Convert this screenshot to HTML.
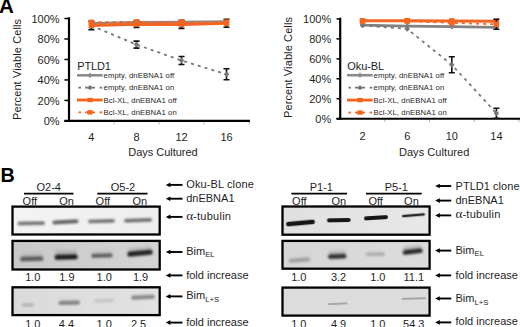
<!DOCTYPE html>
<html><head><meta charset="utf-8"><style>
html,body{margin:0;padding:0;background:#fff;overflow:hidden;}
svg{display:block;}
text{font-family:"Liberation Sans",sans-serif;fill:#1e1e1e;}
.ax{font-size:11px;}
.lt{font-size:11px;}
.lg{font-size:7.7px;letter-spacing:0.1px;}
.bt{font-size:11px;}
.sub{font-size:7.8px;}
.gr{font-family:"Liberation Serif",serif;font-size:13.2px;}
.pl{font-size:18.6px;font-weight:bold;fill:#000;}
</style></head><body>
<svg width="520" height="327" viewBox="0 0 520 327">
<defs>
<filter id="bl" x="-20%" y="-200%" width="140%" height="500%"><feGaussianBlur stdDeviation="0.75"/></filter>
<linearGradient id="sm" x1="0" y1="0" x2="0" y2="1"><stop offset="0" stop-color="currentColor" stop-opacity="0"/><stop offset="1" stop-color="currentColor" stop-opacity="1"/></linearGradient>
</defs>
<text x="-0.9" y="13.2" class="pl" style="font-size:20.6px">A</text>
<line x1="114.0" y1="120.9" x2="114.0" y2="124.30000000000001" stroke="#aaa" stroke-width="0.9"/>
<line x1="159.1" y1="120.9" x2="159.1" y2="124.30000000000001" stroke="#aaa" stroke-width="0.9"/>
<line x1="204.1" y1="120.9" x2="204.1" y2="124.30000000000001" stroke="#aaa" stroke-width="0.9"/>
<line x1="249.2" y1="120.9" x2="249.2" y2="124.30000000000001" stroke="#aaa" stroke-width="0.9"/>
<line x1="69" y1="17.3" x2="69" y2="121.9" stroke="#000" stroke-width="2.2"/>
<line x1="64.4" y1="120.9" x2="250" y2="120.9" stroke="#000" stroke-width="2.1"/>
<line x1="64.4" y1="120.90" x2="69" y2="120.90" stroke="#000" stroke-width="1.5"/>
<text x="59.6" y="125.00" class="ax" text-anchor="end">0%</text>
<line x1="64.4" y1="100.42" x2="69" y2="100.42" stroke="#000" stroke-width="1.5"/>
<text x="59.6" y="104.52" class="ax" text-anchor="end">20%</text>
<line x1="64.4" y1="79.94" x2="69" y2="79.94" stroke="#000" stroke-width="1.5"/>
<text x="59.6" y="84.04" class="ax" text-anchor="end">40%</text>
<line x1="64.4" y1="59.46" x2="69" y2="59.46" stroke="#000" stroke-width="1.5"/>
<text x="59.6" y="63.56" class="ax" text-anchor="end">60%</text>
<line x1="64.4" y1="38.98" x2="69" y2="38.98" stroke="#000" stroke-width="1.5"/>
<text x="59.6" y="43.08" class="ax" text-anchor="end">80%</text>
<line x1="64.4" y1="18.50" x2="69" y2="18.50" stroke="#000" stroke-width="1.5"/>
<text x="59.6" y="22.60" class="ax" text-anchor="end">100%</text>
<text x="91.4" y="141.3" class="ax" text-anchor="middle">4</text>
<text x="136.5" y="141.3" class="ax" text-anchor="middle">8</text>
<text x="181.5" y="141.3" class="ax" text-anchor="middle">12</text>
<text x="226.5" y="141.3" class="ax" text-anchor="middle">16</text>
<text x="128.2" y="156.4" class="ax" textLength="69.5" lengthAdjust="spacing">Days Cultured</text>
<text transform="translate(21.4,119.9) rotate(-90)" class="ax" textLength="101" lengthAdjust="spacing">Percent Viable Cells</text>
<polyline points="91.4,23.1 136.5,22.1 181.5,21.8 226.5,21.3" fill="none" stroke="#8c8c8c" stroke-width="2.2"/>
<path d="M91.4,20.3l2.8,2.8l-2.8,2.8l-2.8,-2.8z" fill="#8c8c8c"/>
<path d="M136.5,19.3l2.8,2.8l-2.8,2.8l-2.8,-2.8z" fill="#8c8c8c"/>
<path d="M181.5,19.0l2.8,2.8l-2.8,2.8l-2.8,-2.8z" fill="#8c8c8c"/>
<path d="M226.5,18.5l2.8,2.8l-2.8,2.8l-2.8,-2.8z" fill="#8c8c8c"/>
<polyline points="91.4,25.7 136.5,44.6 181.5,60.5 226.5,74.3" fill="none" stroke="#777" stroke-width="1.8" stroke-dasharray="3,4.1"/>
<path d="M133.5,41.1h6M136.5,41.1v7.0M133.5,48.1h6" stroke="#111" stroke-width="1.6" fill="none"/>
<path d="M178.5,56.5h6M181.5,56.5v8M178.5,64.5h6" stroke="#111" stroke-width="1.6" fill="none"/>
<path d="M223.5,68.8h6M226.5,68.8v11.0M223.5,79.8h6" stroke="#111" stroke-width="1.6" fill="none"/>
<path d="M91.4,22.9l2.8,2.8l-2.8,2.8l-2.8,-2.8z" fill="#777"/>
<path d="M136.5,41.8l2.8,2.8l-2.8,2.8l-2.8,-2.8z" fill="#777"/>
<path d="M181.5,57.7l2.8,2.8l-2.8,2.8l-2.8,-2.8z" fill="#777"/>
<path d="M226.5,71.5l2.8,2.8l-2.8,2.8l-2.8,-2.8z" fill="#777"/>
<polyline points="91.4,25.4 136.5,24.1 181.5,24.4 226.5,23.3" fill="none" stroke="#f26522" stroke-width="3.1"/>
<path d="M88.4,21.2h6M91.4,21.2v8.4M88.4,29.6h6" stroke="#111" stroke-width="1.6" fill="none"/>
<path d="M133.5,20.8h6M136.5,20.8v6.6M133.5,27.4h6" stroke="#111" stroke-width="1.6" fill="none"/>
<path d="M178.5,20.4h6M181.5,20.4v8M178.5,28.4h6" stroke="#111" stroke-width="1.6" fill="none"/>
<path d="M223.5,19.3h6M226.5,19.3v8M223.5,27.3h6" stroke="#111" stroke-width="1.6" fill="none"/>
<rect x="88.7" y="22.7" width="5.4" height="5.4" fill="#f26522"/>
<rect x="133.8" y="21.4" width="5.4" height="5.4" fill="#f26522"/>
<rect x="178.8" y="21.7" width="5.4" height="5.4" fill="#f26522"/>
<rect x="223.8" y="20.6" width="5.4" height="5.4" fill="#f26522"/>
<polyline points="91.4,22.3 136.5,21.8 181.5,22.1 226.5,22.1" fill="none" stroke="#f26522" stroke-width="1.8" stroke-dasharray="3,4.1"/>
<rect x="88.7" y="19.6" width="5.4" height="5.4" fill="#f26522"/>
<rect x="133.8" y="19.1" width="5.4" height="5.4" fill="#f26522"/>
<rect x="178.8" y="19.4" width="5.4" height="5.4" fill="#f26522"/>
<rect x="223.8" y="19.4" width="5.4" height="5.4" fill="#f26522"/>
<text x="77.3" y="69.9" class="lt" textLength="33.5" lengthAdjust="spacing">PTLD1</text>
<line x1="77" y1="75.30" x2="102.6" y2="75.30" stroke="#8c8c8c" stroke-width="2.6"/>
<path d="M90,72.70l2.6,2.6l-2.6,2.6l-2.6,-2.6z" fill="#8c8c8c"/>
<text x="103.6" y="77.90" class="lg">empty, dnEBNA1 off</text>
<line x1="78.4" y1="87.65" x2="81" y2="87.65" stroke="#777" stroke-width="1.8"/>
<line x1="85" y1="87.65" x2="95" y2="87.65" stroke="#777" stroke-width="1.8"/>
<line x1="99.6" y1="87.65" x2="102.2" y2="87.65" stroke="#777" stroke-width="1.8"/>
<path d="M90,85.05l2.6,2.6l-2.6,2.6l-2.6,-2.6z" fill="#777"/>
<text x="103.6" y="90.25" class="lg">empty, dnEBNA1 on</text>
<line x1="77" y1="100.00" x2="102.6" y2="100.00" stroke="#f26522" stroke-width="2.9"/>
<rect x="87.4" y="97.80" width="5.2" height="4.4" fill="#f26522"/>
<text x="103.6" y="102.60" class="lg">Bcl-XL, dnEBNA1 off</text>
<line x1="78.4" y1="112.35" x2="81" y2="112.35" stroke="#f26522" stroke-width="1.8"/>
<line x1="85" y1="112.35" x2="95" y2="112.35" stroke="#f26522" stroke-width="1.8"/>
<line x1="99.6" y1="112.35" x2="102.2" y2="112.35" stroke="#f26522" stroke-width="1.8"/>
<rect x="87.4" y="110.15" width="5.2" height="4.4" fill="#f26522"/>
<text x="103.6" y="114.95" class="lg">Bcl-XL, dnEBNA1 on</text>
<line x1="384.8" y1="118.7" x2="384.8" y2="122.10000000000001" stroke="#aaa" stroke-width="0.9"/>
<line x1="429.5" y1="118.7" x2="429.5" y2="122.10000000000001" stroke="#aaa" stroke-width="0.9"/>
<line x1="474.2" y1="118.7" x2="474.2" y2="122.10000000000001" stroke="#aaa" stroke-width="0.9"/>
<line x1="518.9" y1="118.7" x2="518.9" y2="122.10000000000001" stroke="#aaa" stroke-width="0.9"/>
<line x1="340.2" y1="17.7" x2="340.2" y2="119.7" stroke="#000" stroke-width="2.2"/>
<line x1="336.5" y1="118.7" x2="520" y2="118.7" stroke="#000" stroke-width="2.1"/>
<line x1="336.5" y1="118.70" x2="340.2" y2="118.70" stroke="#000" stroke-width="1.5"/>
<text x="331.2" y="122.50" class="ax" text-anchor="end">0%</text>
<line x1="336.5" y1="98.74" x2="340.2" y2="98.74" stroke="#000" stroke-width="1.5"/>
<text x="331.2" y="102.54" class="ax" text-anchor="end">20%</text>
<line x1="336.5" y1="78.78" x2="340.2" y2="78.78" stroke="#000" stroke-width="1.5"/>
<text x="331.2" y="82.58" class="ax" text-anchor="end">40%</text>
<line x1="336.5" y1="58.82" x2="340.2" y2="58.82" stroke="#000" stroke-width="1.5"/>
<text x="331.2" y="62.62" class="ax" text-anchor="end">60%</text>
<line x1="336.5" y1="38.86" x2="340.2" y2="38.86" stroke="#000" stroke-width="1.5"/>
<text x="331.2" y="42.66" class="ax" text-anchor="end">80%</text>
<line x1="336.5" y1="18.90" x2="340.2" y2="18.90" stroke="#000" stroke-width="1.5"/>
<text x="331.2" y="22.70" class="ax" text-anchor="end">100%</text>
<text x="362.5" y="140" class="ax" text-anchor="middle">2</text>
<text x="407.2" y="140" class="ax" text-anchor="middle">6</text>
<text x="451.8" y="140" class="ax" text-anchor="middle">10</text>
<text x="496.4" y="140" class="ax" text-anchor="middle">14</text>
<text x="398.9" y="156" class="ax" textLength="70.5" lengthAdjust="spacing">Days Cultured</text>
<text transform="translate(292.2,118) rotate(-90)" class="ax" textLength="101" lengthAdjust="spacing">Percent Viable Cells</text>
<polyline points="362.5,25.1 407.2,26.1 451.8,26.7 496.4,27.3" fill="none" stroke="#828282" stroke-width="2.7"/>
<path d="M362.5,22.3l2.8,2.8l-2.8,2.8l-2.8,-2.8z" fill="#828282"/>
<path d="M407.2,23.3l2.8,2.8l-2.8,2.8l-2.8,-2.8z" fill="#828282"/>
<path d="M451.8,23.9l2.8,2.8l-2.8,2.8l-2.8,-2.8z" fill="#828282"/>
<path d="M496.4,24.5l2.8,2.8l-2.8,2.8l-2.8,-2.8z" fill="#828282"/>
<polyline points="362.5,25.4 407.2,28.9 451.8,64.8 496.4,113.2" fill="none" stroke="#777" stroke-width="1.8" stroke-dasharray="3,4.1"/>
<path d="M448.8,56.8h6M451.8,56.8v16M448.8,72.8h6" stroke="#111" stroke-width="1.6" fill="none"/>
<path d="M493.4,108.2h6M496.4,108.2v10M493.4,118.2h6" stroke="#111" stroke-width="1.6" fill="none"/>
<path d="M362.5,22.6l2.8,2.8l-2.8,2.8l-2.8,-2.8z" fill="#777"/>
<path d="M407.2,26.1l2.8,2.8l-2.8,2.8l-2.8,-2.8z" fill="#777"/>
<path d="M451.8,62.0l2.8,2.8l-2.8,2.8l-2.8,-2.8z" fill="#777"/>
<path d="M496.4,110.4l2.8,2.8l-2.8,2.8l-2.8,-2.8z" fill="#777"/>
<polyline points="362.5,20.8 407.2,20.7 451.8,20.9 496.4,21.3" fill="none" stroke="#f26522" stroke-width="3"/>
<rect x="359.8" y="18.1" width="5.4" height="5.4" fill="#f26522"/>
<rect x="404.5" y="18.0" width="5.4" height="5.4" fill="#f26522"/>
<rect x="449.1" y="18.2" width="5.4" height="5.4" fill="#f26522"/>
<rect x="493.7" y="18.6" width="5.4" height="5.4" fill="#f26522"/>
<polyline points="362.5,21.1 407.2,21.1 451.8,22.9 496.4,24.3" fill="none" stroke="#f26522" stroke-width="1.8" stroke-dasharray="3,4.1"/>
<path d="M493.4,19.3h6M496.4,19.3v10M493.4,29.3h6" stroke="#111" stroke-width="1.6" fill="none"/>
<rect x="359.8" y="18.4" width="5.4" height="5.4" fill="#f26522"/>
<rect x="404.5" y="18.4" width="5.4" height="5.4" fill="#f26522"/>
<rect x="449.1" y="20.2" width="5.4" height="5.4" fill="#f26522"/>
<rect x="493.7" y="21.6" width="5.4" height="5.4" fill="#f26522"/>
<text x="347.2" y="69.9" class="lt" textLength="37" lengthAdjust="spacing">Oku-BL</text>
<line x1="347" y1="75.20" x2="372.6" y2="75.20" stroke="#8c8c8c" stroke-width="2.6"/>
<path d="M360,72.60l2.6,2.6l-2.6,2.6l-2.6,-2.6z" fill="#8c8c8c"/>
<text x="373.6" y="77.80" class="lg">empty, dnEBNA1 off</text>
<line x1="348.4" y1="87.65" x2="351" y2="87.65" stroke="#777" stroke-width="1.8"/>
<line x1="355" y1="87.65" x2="365" y2="87.65" stroke="#777" stroke-width="1.8"/>
<line x1="369.6" y1="87.65" x2="372.2" y2="87.65" stroke="#777" stroke-width="1.8"/>
<path d="M360,85.05l2.6,2.6l-2.6,2.6l-2.6,-2.6z" fill="#777"/>
<text x="373.6" y="90.25" class="lg">empty, dnEBNA1 on</text>
<line x1="347" y1="100.10" x2="372.6" y2="100.10" stroke="#f26522" stroke-width="2.9"/>
<rect x="357.4" y="97.90" width="5.2" height="4.4" fill="#f26522"/>
<text x="373.6" y="102.70" class="lg">Bcl-XL, dnEBNA1 off</text>
<line x1="348.4" y1="112.55" x2="351" y2="112.55" stroke="#f26522" stroke-width="1.8"/>
<line x1="355" y1="112.55" x2="365" y2="112.55" stroke="#f26522" stroke-width="1.8"/>
<line x1="369.6" y1="112.55" x2="372.2" y2="112.55" stroke="#f26522" stroke-width="1.8"/>
<rect x="357.4" y="110.35" width="5.2" height="4.4" fill="#f26522"/>
<text x="373.6" y="115.15" class="lg">Bcl-XL, dnEBNA1 on</text>
<text x="0.6" y="181.8" class="pl" style="font-size:19.8px">B</text>
<text x="48.7" y="191.2" class="bt" text-anchor="middle">O2-4</text>
<line x1="24" y1="193.6" x2="73.5" y2="193.6" stroke="#000" stroke-width="1.7"/>
<text x="22.6" y="204.6" class="bt">Off</text>
<text x="59.2" y="204.6" class="bt">On</text>
<text x="123" y="191.2" class="bt" text-anchor="middle">O5-2</text>
<line x1="97.3" y1="193.6" x2="147.5" y2="193.6" stroke="#000" stroke-width="1.7"/>
<text x="95.6" y="204.6" class="bt">Off</text>
<text x="132.4" y="204.6" class="bt">On</text>
<text x="321.3" y="191.2" class="bt" text-anchor="middle">P1-1</text>
<line x1="291.4" y1="193.6" x2="347" y2="193.6" stroke="#000" stroke-width="1.7"/>
<text x="292.1" y="204.6" class="bt">Off</text>
<text x="331.5" y="204.6" class="bt">On</text>
<text x="396.3" y="191.2" class="bt" text-anchor="middle">P5-1</text>
<line x1="366" y1="193.6" x2="421.7" y2="193.6" stroke="#000" stroke-width="1.7"/>
<text x="368.4" y="204.6" class="bt">Off</text>
<text x="404.1" y="204.6" class="bt">On</text>
<linearGradient id="bg17" x1="0" y1="0" x2="1" y2="0"><stop offset="0" stop-color="#f3f3f3"/><stop offset="1" stop-color="#eeeeee"/></linearGradient>
<rect x="12.5" y="206.6" width="147.2" height="27.9" fill="url(#bg17)" stroke="#000" stroke-width="2.3"/>
<filter id="f19" x="-30%" y="-300%" width="160%" height="700%"><feGaussianBlur stdDeviation="0.9"/></filter>
<g transform="translate(31.20,223.30) rotate(-0.83)" filter="url(#f19)"><rect x="-13.80" y="-1.80" width="27.60" height="3.60" rx="1.80" fill="#6e6e6e"/></g>
<filter id="f21" x="-30%" y="-300%" width="160%" height="700%"><feGaussianBlur stdDeviation="0.9"/></filter>
<g transform="translate(65.40,221.90) rotate(-3.06)" filter="url(#f21)"><rect x="-13.10" y="-1.90" width="26.20" height="3.80" rx="1.90" fill="#666"/></g>
<filter id="f23" x="-30%" y="-300%" width="160%" height="700%"><feGaussianBlur stdDeviation="0.9"/></filter>
<g transform="translate(101.50,221.15) rotate(-1.49)" filter="url(#f23)"><rect x="-13.50" y="-1.80" width="27.00" height="3.60" rx="1.80" fill="#707070"/></g>
<filter id="f25" x="-30%" y="-300%" width="160%" height="700%"><feGaussianBlur stdDeviation="0.9"/></filter>
<g transform="translate(138.00,220.30) rotate(-2.05)" filter="url(#f25)"><rect x="-14.00" y="-1.80" width="28.00" height="3.60" rx="1.80" fill="#6a6a6a"/></g>
<linearGradient id="bg27" x1="0" y1="0" x2="1" y2="0"><stop offset="0" stop-color="#c8c8c8"/><stop offset="1" stop-color="#d4d4d4"/></linearGradient>
<rect x="12.5" y="240.9" width="147.2" height="28.6" fill="url(#bg27)" stroke="#000" stroke-width="2.3"/>
<filter id="f29" x="-30%" y="-300%" width="160%" height="700%"><feGaussianBlur stdDeviation="1.1"/></filter>
<linearGradient id="gf29" x1="0" y1="0" x2="0" y2="1"><stop offset="0" stop-color="#5e5e5e" stop-opacity="0"/><stop offset="1" stop-color="#5e5e5e" stop-opacity="0.35"/></linearGradient>
<g transform="translate(31.75,258.90) rotate(-1.46)" filter="url(#f29)"><rect x="-10.75" y="-7.20" width="21.50" height="7.20" rx="2" fill="url(#gf29)"/><rect x="-11.75" y="-2.20" width="23.50" height="4.40" rx="2.20" fill="#5e5e5e"/></g>
<filter id="f32" x="-30%" y="-300%" width="160%" height="700%"><feGaussianBlur stdDeviation="1.0"/></filter>
<linearGradient id="gf32" x1="0" y1="0" x2="0" y2="1"><stop offset="0" stop-color="#1e1e1e" stop-opacity="0"/><stop offset="1" stop-color="#1e1e1e" stop-opacity="0.35"/></linearGradient>
<g transform="translate(66.15,257.10) rotate(-1.49)" filter="url(#f32)"><rect x="-10.55" y="-8.50" width="21.10" height="8.50" rx="2" fill="url(#gf32)"/><rect x="-11.55" y="-2.50" width="23.10" height="5.00" rx="2.50" fill="#1e1e1e"/></g>
<filter id="f35" x="-30%" y="-300%" width="160%" height="700%"><feGaussianBlur stdDeviation="1.1"/></filter>
<linearGradient id="gf35" x1="0" y1="0" x2="0" y2="1"><stop offset="0" stop-color="#606060" stop-opacity="0"/><stop offset="1" stop-color="#606060" stop-opacity="0.3"/></linearGradient>
<g transform="translate(101.95,255.65) rotate(-1.33)" filter="url(#f35)"><rect x="-9.75" y="-6.10" width="19.50" height="6.10" rx="2" fill="url(#gf35)"/><rect x="-10.75" y="-2.10" width="21.50" height="4.20" rx="2.10" fill="#606060"/></g>
<filter id="f38" x="-30%" y="-300%" width="160%" height="700%"><feGaussianBlur stdDeviation="1.0"/></filter>
<linearGradient id="gf38" x1="0" y1="0" x2="0" y2="1"><stop offset="0" stop-color="#222" stop-opacity="0"/><stop offset="1" stop-color="#222" stop-opacity="0.35"/></linearGradient>
<g transform="translate(140.00,253.20) rotate(-5.40)" filter="url(#f38)"><rect x="-11.70" y="-7.50" width="23.40" height="7.50" rx="2" fill="url(#gf38)"/><rect x="-12.70" y="-2.50" width="25.40" height="5.00" rx="2.50" fill="#222"/></g>
<linearGradient id="bg41" x1="0" y1="0" x2="1" y2="0"><stop offset="0" stop-color="#dadada"/><stop offset="1" stop-color="#e2e2e2"/></linearGradient>
<rect x="12.5" y="287.3" width="147.2" height="27.8" fill="url(#bg41)" stroke="#000" stroke-width="2.3"/>
<filter id="f43" x="-30%" y="-300%" width="160%" height="700%"><feGaussianBlur stdDeviation="0.9"/></filter>
<g transform="translate(28.00,304.90) rotate(-0.95)" filter="url(#f43)"><rect x="-6.00" y="-1.70" width="12.00" height="3.40" rx="1.70" fill="#b4b4b4"/></g>
<filter id="f45" x="-30%" y="-300%" width="160%" height="700%"><feGaussianBlur stdDeviation="0.9"/></filter>
<linearGradient id="gf45" x1="0" y1="0" x2="0" y2="1"><stop offset="0" stop-color="#848484" stop-opacity="0"/><stop offset="1" stop-color="#848484" stop-opacity="0.3"/></linearGradient>
<g transform="translate(69.25,302.80) rotate(-1.07)" filter="url(#f45)"><rect x="-9.75" y="-5.00" width="19.50" height="5.00" rx="2" fill="url(#gf45)"/><rect x="-10.75" y="-2.00" width="21.50" height="4.00" rx="2.00" fill="#848484"/></g>
<filter id="f48" x="-30%" y="-300%" width="160%" height="700%"><feGaussianBlur stdDeviation="0.9"/></filter>
<g transform="translate(104.00,300.55) rotate(-1.43)" filter="url(#f48)"><rect x="-10.00" y="-1.60" width="20.00" height="3.20" rx="1.60" fill="#c2c2c2"/></g>
<filter id="f50" x="-30%" y="-300%" width="160%" height="700%"><feGaussianBlur stdDeviation="0.9"/></filter>
<linearGradient id="gf50" x1="0" y1="0" x2="0" y2="1"><stop offset="0" stop-color="#8a8a8a" stop-opacity="0"/><stop offset="1" stop-color="#8a8a8a" stop-opacity="0.3"/></linearGradient>
<g transform="translate(143.00,297.30) rotate(-2.39)" filter="url(#f50)"><rect x="-11.00" y="-5.00" width="22.00" height="5.00" rx="2" fill="url(#gf50)"/><rect x="-12.00" y="-2.00" width="24.00" height="4.00" rx="2.00" fill="#8a8a8a"/></g>
<linearGradient id="bg53" x1="0" y1="0" x2="1" y2="0"><stop offset="0" stop-color="#e0e0e0"/><stop offset="1" stop-color="#e8e8e8"/></linearGradient>
<rect x="282.5" y="206.5" width="147.1" height="28.2" fill="url(#bg53)" stroke="#000" stroke-width="2.3"/>
<filter id="f55" x="-30%" y="-300%" width="160%" height="700%"><feGaussianBlur stdDeviation="0.7"/></filter>
<g transform="translate(300.50,223.00) rotate(-5.12)" filter="url(#f55)"><rect x="-14.50" y="-2.30" width="29.00" height="4.60" rx="2.30" fill="#141414"/></g>
<filter id="f57" x="-30%" y="-300%" width="160%" height="700%"><feGaussianBlur stdDeviation="0.7"/></filter>
<g transform="translate(338.80,220.20) rotate(-0.97)" filter="url(#f57)"><rect x="-11.80" y="-1.90" width="23.60" height="3.80" rx="1.90" fill="#181818"/></g>
<filter id="f59" x="-30%" y="-300%" width="160%" height="700%"><feGaussianBlur stdDeviation="0.7"/></filter>
<g transform="translate(375.95,217.75) rotate(-3.56)" filter="url(#f59)"><rect x="-12.05" y="-2.10" width="24.10" height="4.20" rx="2.10" fill="#141414"/></g>
<filter id="f61" x="-30%" y="-300%" width="160%" height="700%"><feGaussianBlur stdDeviation="0.6"/></filter>
<g transform="translate(413.50,215.25) rotate(-4.72)" filter="url(#f61)"><rect x="-11.50" y="-1.20" width="23.00" height="2.40" rx="1.20" fill="#262626"/></g>
<linearGradient id="bg63" x1="0" y1="0" x2="1" y2="0"><stop offset="0" stop-color="#d6d6d6"/><stop offset="1" stop-color="#dcdcdc"/></linearGradient>
<rect x="282.5" y="240.9" width="147.1" height="27.8" fill="url(#bg63)" stroke="#000" stroke-width="2.3"/>
<filter id="f65" x="-30%" y="-300%" width="160%" height="700%"><feGaussianBlur stdDeviation="0.9"/></filter>
<linearGradient id="gf65" x1="0" y1="0" x2="0" y2="1"><stop offset="0" stop-color="#a0a0a0" stop-opacity="0"/><stop offset="1" stop-color="#a0a0a0" stop-opacity="0.3"/></linearGradient>
<g transform="translate(299.55,260.15) rotate(-4.52)" filter="url(#f65)"><rect x="-9.75" y="-5.10" width="19.50" height="5.10" rx="2" fill="url(#gf65)"/><rect x="-10.75" y="-2.10" width="21.50" height="4.20" rx="2.10" fill="#a0a0a0"/></g>
<filter id="f68" x="-30%" y="-300%" width="160%" height="700%"><feGaussianBlur stdDeviation="0.9"/></filter>
<linearGradient id="gf68" x1="0" y1="0" x2="0" y2="1"><stop offset="0" stop-color="#333" stop-opacity="0"/><stop offset="1" stop-color="#333" stop-opacity="0.45"/></linearGradient>
<g transform="translate(337.25,256.50) rotate(-1.86)" filter="url(#f68)"><rect x="-8.25" y="-7.30" width="16.50" height="7.30" rx="2" fill="url(#gf68)"/><rect x="-9.25" y="-2.30" width="18.50" height="4.60" rx="2.30" fill="#333"/></g>
<filter id="f71" x="-30%" y="-300%" width="160%" height="700%"><feGaussianBlur stdDeviation="0.9"/></filter>
<linearGradient id="gf71" x1="0" y1="0" x2="0" y2="1"><stop offset="0" stop-color="#b0b0b0" stop-opacity="0"/><stop offset="1" stop-color="#b0b0b0" stop-opacity="0.3"/></linearGradient>
<g transform="translate(375.40,254.20) rotate(-1.19)" filter="url(#f71)"><rect x="-8.60" y="-3.90" width="17.20" height="3.90" rx="2" fill="url(#gf71)"/><rect x="-9.60" y="-1.90" width="19.20" height="3.80" rx="1.90" fill="#b0b0b0"/></g>
<filter id="f74" x="-30%" y="-300%" width="160%" height="700%"><feGaussianBlur stdDeviation="0.9"/></filter>
<linearGradient id="gf74" x1="0" y1="0" x2="0" y2="1"><stop offset="0" stop-color="#262626" stop-opacity="0"/><stop offset="1" stop-color="#262626" stop-opacity="0.45"/></linearGradient>
<g transform="translate(412.70,251.65) rotate(-6.56)" filter="url(#f74)"><rect x="-9.00" y="-7.30" width="18.00" height="7.30" rx="2" fill="url(#gf74)"/><rect x="-10.00" y="-2.30" width="20.00" height="4.60" rx="2.30" fill="#262626"/></g>
<rect x="282.5" y="287.6" width="147.1" height="28.0" fill="#dcdcdc" stroke="#000" stroke-width="2.3"/>
<filter id="f78" x="-30%" y="-300%" width="160%" height="700%"><feGaussianBlur stdDeviation="0.7"/></filter>
<g transform="translate(337.65,303.75) rotate(-2.62)" filter="url(#f78)"><rect x="-9.85" y="-1.00" width="19.70" height="2.00" rx="1.00" fill="#a8a8a8"/></g>
<filter id="f80" x="-30%" y="-300%" width="160%" height="700%"><feGaussianBlur stdDeviation="0.7"/></filter>
<g transform="translate(413.95,298.55) rotate(-1.66)" filter="url(#f80)"><rect x="-12.05" y="-1.00" width="24.10" height="2.00" rx="1.00" fill="#a5a5a5"/></g>
<text x="32.8" y="281" class="bt" text-anchor="middle">1.0</text>
<text x="66.9" y="281" class="bt" text-anchor="middle">1.9</text>
<text x="104.2" y="281" class="bt" text-anchor="middle">1.0</text>
<text x="140.6" y="281" class="bt" text-anchor="middle">1.9</text>
<text x="32.8" y="327.6" class="bt" text-anchor="middle">1.0</text>
<text x="66.5" y="327.6" class="bt" text-anchor="middle">4.4</text>
<text x="104.2" y="327.6" class="bt" text-anchor="middle">1.0</text>
<text x="138.6" y="327.6" class="bt" text-anchor="middle">2.5</text>
<text x="298.8" y="281" class="bt" text-anchor="middle">1.0</text>
<text x="338.6" y="281" class="bt" text-anchor="middle">3.2</text>
<text x="377.8" y="281" class="bt" text-anchor="middle">1.0</text>
<text x="413.8" y="281" class="bt" text-anchor="middle">11.1</text>
<text x="298.8" y="327.6" class="bt" text-anchor="middle">1.0</text>
<text x="338.6" y="327.6" class="bt" text-anchor="middle">4.9</text>
<text x="377.8" y="327.6" class="bt" text-anchor="middle">1.0</text>
<text x="413.8" y="327.6" class="bt" text-anchor="middle">54.3</text>
<line x1="168.8" y1="184.9" x2="182.5" y2="184.9" stroke="#000" stroke-width="1.9"/>
<path d="M165.8,184.9l4.6,-2.3v4.6z" fill="#000"/>
<text x="186.2" y="188.4" class="bt" textLength="67.6" lengthAdjust="spacing">Oku-BL clone</text>
<line x1="168.8" y1="198.7" x2="182.5" y2="198.7" stroke="#000" stroke-width="1.9"/>
<path d="M165.8,198.7l4.6,-2.3v4.6z" fill="#000"/>
<text x="186.2" y="201.7" class="bt">dnEBNA1</text>
<line x1="168.8" y1="216.9" x2="182.5" y2="216.9" stroke="#000" stroke-width="1.9"/>
<path d="M165.8,216.9l4.6,-2.3v4.6z" fill="#000"/>
<text x="186.2" y="219.8" class="bt"><tspan class="gr">α</tspan><tspan style="letter-spacing:0.25px">-tubulin</tspan></text>
<line x1="168.8" y1="252" x2="182.5" y2="252" stroke="#000" stroke-width="1.9"/>
<path d="M165.8,252l4.6,-2.3v4.6z" fill="#000"/>
<text x="186.2" y="255.4" class="bt">Bim<tspan class="sub" dy="1.8">EL</tspan></text>
<line x1="168.8" y1="275.4" x2="182.5" y2="275.4" stroke="#000" stroke-width="1.9"/>
<path d="M165.8,275.4l4.6,-2.3v4.6z" fill="#000"/>
<text x="186.2" y="278.9" class="bt">fold increase</text>
<line x1="168.8" y1="296.4" x2="182.5" y2="296.4" stroke="#000" stroke-width="1.9"/>
<path d="M165.8,296.4l4.6,-2.3v4.6z" fill="#000"/>
<text x="186.2" y="298.9" class="bt">Bim<tspan class="sub" dy="2.6">L+S</tspan></text>
<line x1="168.8" y1="322.6" x2="182.5" y2="322.6" stroke="#000" stroke-width="1.9"/>
<path d="M165.8,322.6l4.6,-2.3v4.6z" fill="#000"/>
<text x="186.2" y="326.3" class="bt">fold increase</text>
<line x1="438.2" y1="186" x2="451.2" y2="186" stroke="#000" stroke-width="1.9"/>
<path d="M435.2,186l4.6,-2.3v4.6z" fill="#000"/>
<text x="455.5" y="190" class="bt" textLength="64" lengthAdjust="spacing">PTLD1 clone</text>
<line x1="438.2" y1="200.6" x2="451.2" y2="200.6" stroke="#000" stroke-width="1.9"/>
<path d="M435.2,200.6l4.6,-2.3v4.6z" fill="#000"/>
<text x="455.5" y="203.9" class="bt">dnEBNA1</text>
<line x1="438.2" y1="215.4" x2="451.2" y2="215.4" stroke="#000" stroke-width="1.9"/>
<path d="M435.2,215.4l4.6,-2.3v4.6z" fill="#000"/>
<text x="455.5" y="217.9" class="bt"><tspan class="gr">α</tspan><tspan style="letter-spacing:0.25px">-tubulin</tspan></text>
<line x1="438.2" y1="250.6" x2="451.2" y2="250.6" stroke="#000" stroke-width="1.9"/>
<path d="M435.2,250.6l4.6,-2.3v4.6z" fill="#000"/>
<text x="455.5" y="253.8" class="bt">Bim<tspan class="sub" dy="1.8">EL</tspan></text>
<line x1="438.2" y1="275.4" x2="451.2" y2="275.4" stroke="#000" stroke-width="1.9"/>
<path d="M435.2,275.4l4.6,-2.3v4.6z" fill="#000"/>
<text x="455.5" y="278.6" class="bt">fold increase</text>
<line x1="438.2" y1="298.5" x2="451.2" y2="298.5" stroke="#000" stroke-width="1.9"/>
<path d="M435.2,298.5l4.6,-2.3v4.6z" fill="#000"/>
<text x="455.5" y="302.3" class="bt">Bim<tspan class="sub" dy="2.6">L+S</tspan></text>
<line x1="438.2" y1="322.4" x2="451.2" y2="322.4" stroke="#000" stroke-width="1.9"/>
<path d="M435.2,322.4l4.6,-2.3v4.6z" fill="#000"/>
<text x="455.5" y="325.3" class="bt">fold increase</text>
</svg>
</body></html>
